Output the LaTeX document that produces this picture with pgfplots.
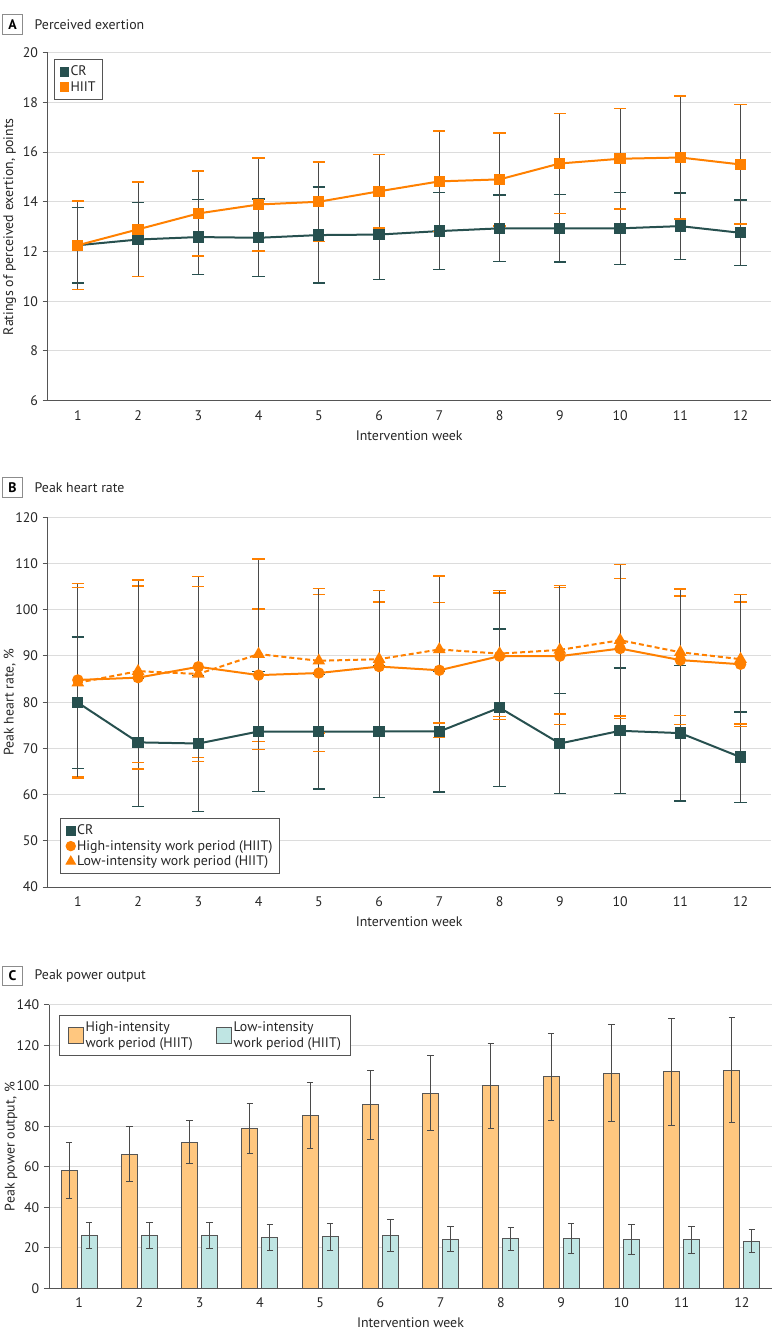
\documentclass[border=0pt]{standalone}
\usepackage{fontspec}
\setmainfont{PT Sans}
\usepackage{pgfplots}
\usepackage{pgfplotstable}
\pgfplotsset{compat=1.18}

\definecolor{crdark}{HTML}{27504F}
\definecolor{hiitorange}{HTML}{FF8000}
\definecolor{barorange}{HTML}{FFC77F}
\definecolor{barteal}{HTML}{BFE5E3}
\definecolor{gridgray}{HTML}{DCDCDC}
\definecolor{axisgray}{HTML}{555555}
\definecolor{errgray}{HTML}{4A4A4A}

\newcommand\fs{\fontsize{10.4}{12.4}\selectfont}

% week, mean and SD for each group
\pgfplotstableread{
week cr crsd hiit hiitsd
1  12.25 1.52 12.25 1.78
2  12.48 1.49 12.89 1.90
3  12.58 1.51 13.53 1.71
4  12.55 1.56 13.89 1.87
5  12.66 1.93 14.00 1.60
6  12.68 1.81 14.42 1.47
7  12.82 1.55 14.82 2.02
8  12.93 1.34 14.90 1.87
9  12.93 1.36 15.54 2.00
10 12.93 1.45 15.73 2.02
11 13.02 1.33 15.78 2.47
12 12.75 1.32 15.50 2.40
}\exertion

\pgfplotstableread{
week cr crsd high highsd low lowsd
1  79.90 14.20 84.80 20.90 84.20 20.60
2  71.30 13.90 85.30 19.80 86.70 19.70
3  71.05 14.65 87.65 19.60 86.10 18.90
4  73.65 13.05 85.85 14.30 90.40 20.60
5  73.60 12.40 86.30 17.00 88.95 15.60
6  73.65 14.25 87.70 14.00 89.30 14.90
7  73.65 13.10 86.90 14.60 91.40 15.90
8  78.80 17.00 89.95 13.70 90.50 13.60
9  71.05 10.75 89.95 14.80 91.30 13.90
10 73.80 13.60 91.60 15.10 93.40 16.40
11 73.30 14.70 89.10 13.90 90.80 13.70
12 68.10  9.80 88.20 13.50 89.30 14.00
}\heartrate

\pgfplotstableread{
week high highsd low lowsd
1   58.2 14.0 26.0 6.4
2   66.2 13.6 26.2 6.4
3   72.2 10.6 26.0 6.5
4   78.9 12.4 25.0 6.4
5   85.5 16.4 25.4 6.6
6   90.6 17.0 26.2 8.0
7   96.4 18.6 24.2 6.2
8  100.0 21.0 24.4 5.7
9  104.4 21.7 24.7 7.4
10 106.3 24.0 24.2 7.4
11 106.9 26.3 23.9 6.6
12 107.7 26.0 23.2 5.6
}\power

\pgfplotsset{
  panel/.style={
    scale only axis, width=542.25pt,
    xmin=0.5, xmax=12.5, xtick={1,...,12},
    axis x line*=bottom, axis y line*=left,
    axis line style={draw=axisgray, line width=0.75pt, -},
    tick align=outside, major tick length=3.75pt,
    xtick style={draw=none},
    ytick style={draw=axisgray, line width=0.75pt},
    ymajorgrids, grid style={draw=gridgray, line width=0.75pt},
    /pgf/number format/assume math mode=true,
    tick label style={font=\fs, text=black!85},
    xlabel={Intervention week},
    every axis x label/.style={at={(axis description cs:0.5,0)}, yshift=-26pt, anchor=center, font=\fs, text=black!85},
    every axis y label/.style={at={(axis description cs:0,0.5)}, xshift=-28.5pt, rotate=90, anchor=center, font=\fs, text=black!85},
    legend cell align=left,
    legend style={font=\fs, draw=axisgray, line width=0.75pt, fill=white,
      inner xsep=4pt, inner ysep=3.5pt, nodes={inner sep=1.3pt, text=black!85}},
  },
  errs/.style={error bars/.cd, y dir=both, y explicit,
    error bar style={draw=errgray, line width=0.75pt, solid},
    error mark options={rotate=90, draw=#1, line width=1pt, mark size=4.6pt, solid}},
  barerrs/.style={error bars/.cd, y dir=both, y explicit,
    error bar style={draw=errgray, line width=0.75pt},
    error mark options={rotate=90, draw=errgray, line width=0.75pt, mark size=2.5pt}},
}

\begin{document}
\begin{tikzpicture}
\useasboundingbox (0pt,0pt) rectangle (587.25pt,-1005pt);

% A
\begin{axis}[panel, at={(35.775pt,-300.45pt)}, anchor=south west, height=261pt,
  ymin=6, ymax=20, ytick={6,8,...,20},
  ylabel={Ratings of perceived exertion, points},
  legend style={at={(axis description cs:0.009,0.981)}, anchor=north west}]
\addlegendimage{only marks, mark=square*, mark size=3.3pt, color=crdark}
\addlegendentry{CR}
\addlegendimage{only marks, mark=square*, mark size=3.3pt, color=hiitorange}
\addlegendentry{HIIT}
\addplot[forget plot, crdark, line width=1.5pt, mark=square*, mark size=3.5pt, errs=crdark]
  table[x=week, y=cr, y error=crsd] {\exertion};
\addplot[forget plot, hiitorange, line width=1.5pt, mark=square*, mark size=3.5pt, errs=hiitorange]
  table[x=week, y=hiit, y error=hiitsd] {\exertion};
\end{axis}

% B
\begin{axis}[panel, at={(35.775pt,-665.25pt)}, anchor=south west, height=277.3pt,
  ymin=40, ymax=120, ytick={40,50,...,120},
  ylabel={Peak heart rate, \%},
  legend style={at={(axis description cs:0.0174,0.0344)}, anchor=south west}]
\addlegendimage{only marks, mark=square*, mark size=3.3pt, color=crdark}
\addlegendentry{CR}
\addlegendimage{only marks, mark=*, mark size=3.5pt, color=hiitorange}
\addlegendentry{High-intensity work period (HIIT)}
\addlegendimage{only marks, mark=triangle*, mark size=4pt, color=hiitorange}
\addlegendentry{Low-intensity work period (HIIT)}
\addplot[forget plot, crdark, line width=1.5pt, mark=square*, mark size=3.5pt, errs=crdark]
  table[x=week, y=cr, y error=crsd] {\heartrate};
\addplot[forget plot, hiitorange, line width=1.5pt, mark=*, mark size=3.5pt, errs=hiitorange]
  table[x=week, y=high, y error=highsd] {\heartrate};
\addplot[forget plot, hiitorange, line width=1.5pt, dash pattern=on 3.75pt off 2.25pt,
  mark=triangle*, mark size=4pt, mark options={solid}, errs=hiitorange]
  table[x=week, y=low, y error=lowsd] {\heartrate};
\end{axis}

% C
\begin{axis}[panel, at={(36.75pt,-966.2pt)}, anchor=south west, height=212.5pt,
  ymin=0, ymax=140, ytick={0,20,...,140},
  ylabel={Peak power output, \%},
  legend columns=2,
  legend style={at={(axis description cs:0.0142,0.9636)}, anchor=north west,
    cells={align=left}, inner xsep=6pt, inner ysep=3pt,
    /tikz/every even column/.append style={column sep=16pt}}]
\addlegendimage{legend image code/.code={\draw[fill=barorange, draw=axisgray, line width=0.75pt] (0pt,-6pt) rectangle (11.25pt,6pt);}}
\addlegendentry{High-intensity\\work period (HIIT)}
\addlegendimage{legend image code/.code={\draw[fill=barteal, draw=axisgray, line width=0.75pt] (0pt,-6pt) rectangle (11.25pt,6pt);}}
\addlegendentry{Low-intensity\\work period (HIIT)}
\addplot[forget plot, ybar, bar width=0.266, fill=barorange, draw=axisgray, line width=0.75pt, barerrs]
  table[x expr=\thisrow{week}-0.166, y=high, y error=highsd] {\power};
\addplot[forget plot, ybar, bar width=0.266, fill=barteal, draw=axisgray, line width=0.75pt, barerrs]
  table[x expr=\thisrow{week}+0.166, y=low, y error=lowsd] {\power};
\end{axis}

% panel titles
\foreach \y/\l/\t in {-18.5/A/Perceived exertion, -365.5/B/Peak heart rate, -732/C/Peak power output}{
  \node[draw=black!45, line width=0.75pt, minimum size=14.7pt, inner sep=0pt, font=\fs\bfseries] at (9.4pt,\y pt) {\l};
  \node[anchor=west, font=\fs, text=black!85] at (22.5pt,\y pt) {\t};
}
\end{tikzpicture}
\end{document}
